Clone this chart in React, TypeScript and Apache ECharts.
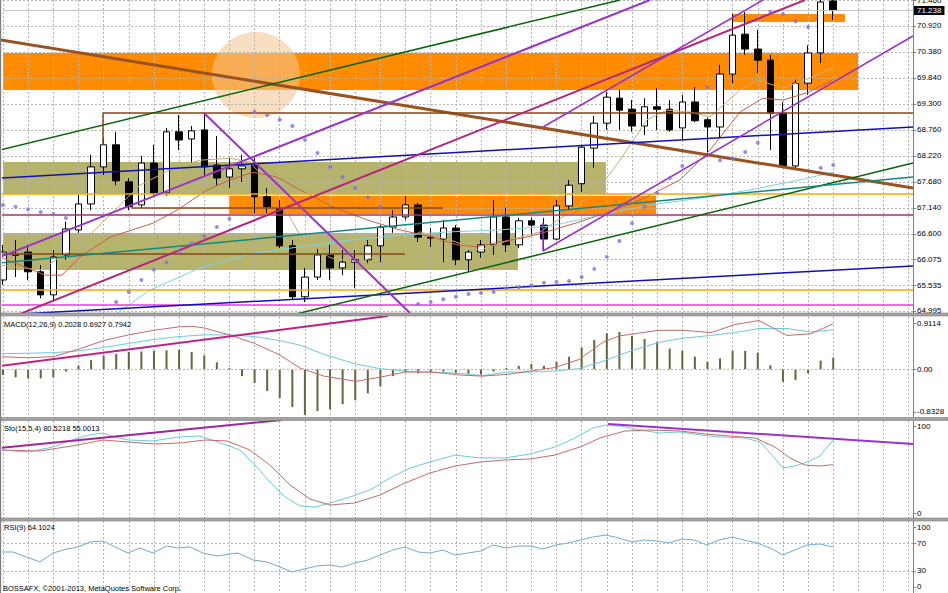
import { useEffect, useRef } from 'react';
import * as echarts from 'echarts';

// ---------- price data (candle index, OHLC) ----------
const opens = [65.64, 66.15, 66.22, 65.81, 65.33, 66.16, 66.68, 67.22, 67.99, 68.45, 67.68, 67.2, 68.07, 67.45, 68.72, 68.57, 68.76, 68.03, 67.78, 67.95, 68.03, 67.37, 67.12, 66.35, 65.29, 65.7, 66.16, 65.89, 66.01, 66.06, 66.35, 66.74, 66.95, 67.2, 66.53, 66.49, 66.72, 66.06, 66.22, 66.37, 66.95, 66.37, 66.87, 66.78, 66.49, 67.18, 67.64, 68.38, 68.9, 69.42, 69.19, 68.84, 69.24, 69.19, 68.8, 69.34, 68.97, 68.82, 69.92, 70.75, 70.44, 70.21, 69.11, 68.01, 69.73, 70.36, 71.44];
const closes = [66.22, 66.18, 65.81, 65.33, 66.12, 66.7, 67.22, 67.99, 68.45, 67.7, 67.16, 68.07, 67.45, 68.72, 68.55, 68.74, 67.99, 67.76, 67.95, 68.01, 67.37, 67.16, 66.35, 65.29, 65.7, 66.16, 65.89, 66.01, 66.06, 66.35, 66.74, 66.95, 67.2, 66.53, 66.51, 66.72, 66.06, 66.22, 66.37, 66.95, 66.37, 66.87, 66.78, 66.49, 67.18, 67.61, 68.4, 68.9, 69.44, 69.17, 68.84, 69.24, 69.19, 68.76, 69.34, 68.95, 68.82, 69.92, 70.73, 70.44, 70.21, 69.11, 68.01, 69.73, 70.36, 71.42, 71.24];
const lows = [65.54, 65.7, 65.64, 65.26, 65.22, 66.06, 66.62, 67.09, 67.82, 67.61, 67.09, 67.14, 67.39, 67.39, 68.34, 68.07, 67.82, 67.61, 67.55, 67.68, 67.03, 67.03, 66.3, 65.22, 65.18, 65.64, 65.64, 65.74, 65.47, 65.99, 66.01, 66.62, 66.89, 66.43, 66.33, 66.01, 65.95, 65.81, 66.1, 66.16, 66.22, 66.3, 66.57, 66.26, 66.47, 67.09, 67.47, 67.97, 68.76, 68.76, 68.72, 68.65, 68.76, 68.72, 68.55, 68.92, 68.23, 68.61, 69.73, 70.32, 69.94, 68.34, 68.01, 67.97, 69.49, 70.15, 71.04];
const highs = [66.37, 66.47, 66.37, 65.95, 66.26, 66.85, 67.41, 68.24, 68.59, 68.72, 67.76, 68.22, 68.45, 68.8, 69.07, 68.84, 69.11, 68.63, 68.18, 68.24, 68.18, 67.55, 67.3, 66.47, 65.89, 66.3, 66.37, 66.26, 66.26, 66.47, 66.78, 67.09, 67.39, 67.24, 66.72, 66.89, 66.78, 66.26, 66.47, 67.3, 67.14, 66.93, 66.93, 66.93, 67.3, 67.72, 68.45, 69.05, 69.55, 69.59, 69.38, 69.42, 69.63, 69.38, 69.49, 69.65, 69.01, 70.11, 71.17, 71.21, 70.84, 70.32, 69.34, 69.8, 70.52, 71.55, 71.55];

// moving averages [candle index, price]
const maFast = [[-0.24, 65.95], [2.94, 65.85], [6.12, 66.37], [8.51, 66.99], [10.89, 67.61], [13.28, 67.93], [15.66, 68.13], [18.04, 68.17], [19.63, 68.09], [21.62, 67.51], [23.61, 66.57], [26.0, 66.1], [28.38, 66.01], [30.76, 66.26], [33.15, 66.64], [35.53, 66.47], [37.92, 66.26], [40.3, 66.47], [42.69, 66.64], [45.07, 67.05], [47.46, 67.57], [49.05, 68.13], [51.19, 68.97], [52.78, 69.17], [54.61, 69.13], [56.2, 69.03], [58.59, 69.59], [59.94, 69.8], [62.0, 69.63], [64.15, 69.84], [65.98, 70.05]];
const maMid = [[-0.24, 66.12], [3.34, 65.74], [4.69, 65.74], [6.12, 66.12], [8.51, 66.53], [11.92, 66.82], [13.83, 67.09], [16.22, 67.51], [18.04, 67.72], [19.87, 67.88], [21.78, 67.78], [23.61, 67.51], [26.23, 67.16], [28.93, 66.89], [31.56, 66.68], [34.18, 66.53], [36.09, 66.37], [37.68, 66.33], [39.51, 66.43], [41.65, 66.53], [43.72, 66.68], [45.87, 66.85], [47.46, 66.99], [50.64, 67.3], [53.82, 67.72], [56.2, 68.34], [58.59, 69.13], [60.41, 69.42], [62.0, 69.38], [63.91, 69.53], [65.98, 69.8]];
const maSlow = [[9.06, 64.95], [11.69, 65.43], [15.66, 65.89], [19.63, 66.18], [23.61, 66.33], [27.58, 66.47], [31.56, 66.57], [35.53, 66.64], [39.51, 66.68], [43.48, 66.76], [47.46, 66.99], [51.43, 67.2], [55.41, 67.34], [59.38, 67.51], [63.35, 67.72], [65.98, 67.88]];

// parabolic SAR per candle
const sar = [67.2, 67.16, 67.11, 67.05, 67.01, 66.93, null, null, null, 65.18, 65.39, 65.64, 65.85, 66.01, 66.22, 66.41, 66.55, 66.74, 66.91, null, 69.13, 69.07, 68.97, 68.84, 68.55, 68.28, 67.99, 67.78, 67.55, 67.36, 67.16, null, null, 65.14, 65.18, 65.24, 65.29, 65.35, 65.37, 65.39, 65.47, 65.49, 65.53, 65.58, 65.6, 65.62, 65.7, 65.87, 66.12, 66.45, 66.82, 67.16, 67.45, 67.76, 68.01, null, 69.65, 68.13, 68.17, 68.3, 68.49, 71.21, 71.17, 71.02, 70.9, 67.97, 68.03];

// MACD
const macdHist = [-0.1, -0.14, -0.16, -0.16, -0.14, -0.04, 0.06, 0.16, 0.24, 0.27, 0.3, 0.31, 0.32, 0.33, 0.34, 0.3, 0.24, 0.12, 0.02, -0.12, -0.24, -0.38, -0.5, -0.66, -0.8, -0.73, -0.7, -0.61, -0.54, -0.42, -0.3, -0.12, -0.05, -0.07, -0.05, -0.04, -0.07, -0.08, -0.09, -0.04, 0.02, 0.06, 0.09, 0.06, 0.13, 0.22, 0.38, 0.51, 0.63, 0.65, 0.58, 0.53, 0.48, 0.36, 0.32, 0.22, 0.13, 0.19, 0.32, 0.32, 0.29, 0.07, -0.22, -0.19, -0.07, 0.15, 0.2];
const macdMain = [[-0.24, 0.22], [2, 0.2], [4, 0.22], [6, 0.35], [8, 0.5], [10, 0.6], [12, 0.68], [14, 0.74], [15, 0.75], [16, 0.72], [18, 0.6], [20, 0.45], [22, 0.25], [23.61, 0.02], [25.52, -0.12], [28.06, -0.21], [29.97, -0.14], [31.88, -0.05], [34.1, -0.05], [36.33, -0.1], [38.08, -0.12], [40.06, -0.09], [41.97, -0.03], [43.88, 0.03], [45.79, 0.17], [47.69, 0.47], [48.97, 0.58], [52.15, 0.68], [54.05, 0.68], [56.28, 0.64], [58.19, 0.78], [60.1, 0.85], [62.32, 0.59], [64.23, 0.62], [65.98, 0.79]];
const macdSignal = [[-0.24, 0.27], [2, 0.28], [4, 0.29], [6, 0.32], [8, 0.38], [10, 0.45], [12, 0.52], [14, 0.57], [16, 0.6], [18, 0.6], [20, 0.57], [22, 0.5], [23.61, 0.42], [25.52, 0.26], [28.06, 0.09], [29.97, 0.01], [31.88, -0.03], [34.1, -0.05], [36.33, -0.07], [38.08, -0.11], [40.06, -0.05], [41.97, -0.05], [43.88, -0.03], [45.79, 0.01], [47.69, 0.14], [49.92, 0.32], [52.15, 0.47], [54.05, 0.54], [56.28, 0.59], [58.19, 0.64], [60.1, 0.71], [62.32, 0.71], [64.23, 0.65], [65.98, 0.69]];

// Stochastic
const stoMain = [[-0.24, 70.1], [1.99, 68.0], [3.97, 73.2], [5.96, 82.5], [6.92, 85.6], [7.95, 87.6], [8.9, 83.5], [9.94, 80.4], [11.92, 79.4], [13.91, 83.5], [15.66, 84.5], [16.85, 79.4], [18.84, 70.1], [20.03, 54.6], [21.22, 37.1], [22.42, 21.6], [23.61, 12.4], [24.8, 11.3], [25.99, 15.5], [27.58, 21.6], [29.17, 28.9], [30.76, 41.2], [32.35, 51.5], [33.94, 57.7], [35.93, 64.9], [37.92, 61.9], [39.9, 61.9], [41.89, 66.0], [43.88, 73.2], [45.47, 82.5], [46.9, 92.8], [47.93, 95.9], [49.05, 94.8], [50.64, 90.7], [52.23, 87.6], [53.82, 88.7], [55.41, 85.6], [56.99, 83.5], [58.98, 82.5], [60.17, 78.4], [61.13, 64.9], [62.0, 51.5], [62.96, 53.6], [63.91, 57.7], [64.94, 63.9], [65.98, 80.5]];
const stoSignal = [[-0.24, 70.1], [2.94, 69.1], [5.96, 75.3], [7.95, 80.4], [9.86, 78.4], [12.08, 76.3], [14.07, 77.3], [16.06, 80.4], [17.81, 79.4], [19.63, 70.1], [21.22, 54.6], [22.81, 34.0], [24.4, 19.6], [25.99, 13.4], [27.98, 15.5], [29.97, 23.7], [31.96, 36.1], [33.94, 46.4], [35.93, 53.6], [37.92, 57.7], [39.9, 59.8], [41.89, 60.8], [43.88, 64.9], [45.87, 73.2], [47.46, 82.5], [49.44, 89.7], [51.43, 90.7], [53.82, 89.7], [55.8, 86.6], [57.79, 84.5], [59.78, 82.5], [61.37, 73.2], [62.56, 61.9], [63.75, 54.6], [64.94, 53.6], [65.98, 55.0]];

// RSI
const rsiLine = [[-0.24, 57.1], [0.79, 57.1], [2.94, 42.9], [3.97, 55.7], [5.09, 61.4], [5.96, 64.3], [6.92, 71.4], [7.95, 72.9], [8.9, 64.3], [9.94, 55.7], [10.89, 62.9], [11.92, 55.7], [13.04, 65.7], [13.91, 62.9], [14.86, 64.3], [15.9, 55.7], [17.01, 51.4], [18.04, 54.3], [18.68, 55.7], [19.87, 45.7], [20.99, 42.9], [22.02, 35.7], [22.97, 28.6], [23.61, 31.4], [24.96, 37.1], [25.99, 38.6], [26.95, 35.7], [27.98, 41.4], [29.01, 45.7], [29.97, 52.9], [31.0, 60.0], [31.96, 64.3], [32.99, 57.1], [33.94, 55.7], [34.98, 60.0], [35.93, 52.9], [36.96, 55.7], [38.0, 58.6], [38.95, 67.1], [39.98, 62.9], [40.94, 65.7], [41.97, 65.7], [42.93, 61.4], [43.96, 67.1], [44.91, 70.0], [45.95, 74.3], [46.9, 78.6], [47.93, 81.4], [48.97, 77.1], [50.0, 71.4], [50.95, 74.3], [51.99, 72.9], [52.94, 70.0], [53.97, 75.7], [54.93, 74.3], [55.96, 67.1], [56.92, 74.3], [57.95, 78.6], [58.9, 74.3], [59.94, 70.0], [60.97, 62.9], [62.0, 52.9], [62.96, 60.0], [63.91, 67.1], [64.94, 68.6], [65.98, 64.1]];

// axis ticks / labels
const priceTicks = [64.995, 65.535, 66.075, 66.6, 67.14, 67.68, 68.22, 68.76, 69.3, 69.84, 70.38, 70.92, 71.46];
const macdTicks = [0.9114, 0, -0.8328];
const macdTickLabels = ['0.9114', '0.00', '-0.8328'];
const stoTicks = [100, 0];
const stoTickLabels = ['100', '0'];
const rsiTicks = [100, 70, 30, 0];
const rsiTickLabels = ['100', '70', '30', '0'];
const lastPrice = 71.238;

// drawn objects (candle index, price)
const zoneOrangeWide = [-0.24, 70.358, 67.97, 69.589];
const zoneOrangeTop = [57.95, 71.169, 66.93, 71.003];
const zoneOrangeMid = [17.97, 67.385, 51.91, 67.011];
const zoneOliveHi = [-0.24, 68.092, 47.93, 67.427];
const zoneOliveLo = [-0.24, 66.616, 40.94, 65.847];
const circleCenter = [20.11, 69.9];

const lnBrownTrend = [[-0.24, 70.63], [72.34, 67.55]];
const lnBrownTop = [[7.95, 68.445], [7.95, 69.111], [72.34, 69.111]];
const lnBrownMid = [[10.25, 67.136], [34.98, 67.136]];
const lnBrownLow = [[-0.24, 66.179], [31.96, 66.179]];
const lnOrangeHi = [[-0.24, 67.427], [72.34, 67.427]];
const lnOrangeLo = [[-0.24, 65.431], [72.34, 65.431]];
const lnMaroon = [[-0.24, 66.99], [72.34, 66.99]];
const lnMagentaLow = [[-0.24, 65.119], [72.34, 65.119]];
const lnBlueHi = [[-0.24, 67.759], [72.34, 68.82]];
const lnBlueLo = [[-0.24, 64.911], [72.34, 65.93]];
const lnGreenHi = [[-0.24, 68.342], [49.05, 71.46]];
const lnGreenLo = [[22.97, 64.911], [72.34, 68.071]];
const lnTeal = [[-0.24, 65.992], [72.34, 67.78]];
const lnPurple1 = [[-0.24, 66.117], [51.43, 71.46]];
const lnMagenta2 = [[-0.24, 64.766], [63.75, 71.46]];
const lnPurpleX = [[15.98, 69.111], [32.35, 64.953]];
const lnChanLo = [[42.93, 66.824], [42.93, 66.242], [72.34, 70.712]];
const lnChanHi = [[42.93, 68.82], [60.41, 71.46]];
const lnMacdTrend = [[-0.24, 0.058], [30.6, 0.93]];
const lnStoLeft = [[-0.24, 72.2], [22.18, 101]];
const lnStoRight = [[48.09, 96.9], [72.34, 76.3]];

const FONT = 'Liberation Sans';
const X_MAX = 72.34;
const GRID_CLR = '#b4b4b4';

export default function App() {
  const ref = useRef<HTMLDivElement>(null);
  useEffect(() => {
    if (!ref.current) return;
    const chart = echarts.init(ref.current, null, { renderer: 'svg' });

    const grids = [
      { left: 3, right: 35, top: 0, height: 313 },
      { left: 3, right: 35, top: 317, height: 100 },
      { left: 3, right: 35, top: 421, height: 97 },
      { left: 3, right: 35, top: 521, height: 72 },
    ].map((g) => ({ ...g, outerBoundsMode: 'none', containLabel: false }));

    const xAxes = [0, 1, 2, 3].map((k) => ({
      gridIndex: k, type: 'value', min: 0, max: X_MAX, interval: 2,
      axisLine: { show: false }, axisTick: { show: false }, axisLabel: { show: false },
      splitLine: { show: true, lineStyle: { type: [2, 2], color: GRID_CLR, width: 1 } },
    }));

    const axisCommon = {
      type: 'value', position: 'right',
      axisLine: { show: true, onZero: false, lineStyle: { color: '#808080', width: 1 } },
    };
    const labelStyle = { fontSize: 8, fontFamily: FONT, color: '#000', margin: 4 };

    const panelAxis = (gridIndex: number, min: number, max: number, ticks: number[], labels: string[], shiftPx: number[], pxPerUnit: number) => {
      const pos = ticks.map((v, k) => v - shiftPx[k] / pxPerUnit);
      return {
        ...axisCommon, gridIndex, min, max,
        axisTick: { show: true, length: 3, customValues: pos, lineStyle: { color: '#808080' } },
        axisLabel: {
          ...labelStyle, customValues: pos,
          formatter: (v: number) => {
            let best = 0;
            pos.forEach((p, k) => { if (Math.abs(p - v) < Math.abs(pos[best] - v)) best = k; });
            return labels[best];
          },
        },
        splitLine: { show: false },
      };
    };

    const yAxes = [
      {
        ...axisCommon, gridIndex: 0, min: 64.953, max: 71.46,
        axisTick: { show: true, length: 3, customValues: priceTicks, lineStyle: { color: '#808080' } },
        axisLabel: { ...labelStyle, customValues: priceTicks, formatter: (v: number) => v.toFixed(3) },
        splitLine: { show: true, lineStyle: { type: [2, 2], color: GRID_CLR, width: 1 } },
      },
      panelAxis(1, -0.8328, 0.9114, macdTicks, macdTickLabels, [6, 0, -5], 57.33),
      panelAxis(2, 0, 100, stoTicks, stoTickLabels, [5, -5], 0.97),
      panelAxis(3, -1.43, 101.43, rsiTicks, rsiTickLabels, [5, 0, 0, -5], 0.7),
    ];

    const zones = [zoneOrangeWide, zoneOrangeTop, zoneOrangeMid, zoneOliveHi, zoneOliveLo];
    const zoneFills = ['#ff8c00', '#ff8c00', '#ff8c00', '#b5b36c', '#b5b36c'];

    const line = (data: number[][], color: string, width: number, panel = 0, z = 4, extra: any = {}) => ({
      type: 'line', xAxisIndex: panel, yAxisIndex: panel, data, showSymbol: false, symbol: 'none',
      lineStyle: { color, width }, z, silent: true, clip: true, animation: false, ...extra,
    });

    const dashedMark = (values: number[]) => ({
      silent: true, symbol: ['none', 'none'], label: { show: false },
      lineStyle: { type: [2, 2], color: GRID_CLR, width: 1 },
      data: values.map((v) => ({ yAxis: v })),
    });

    const series: any[] = [
      {
        type: 'custom', xAxisIndex: 0, yAxisIndex: 0, z: -2, silent: true,
        data: zones.map((zn, k) => [...zn, k]),
        encode: { x: [0, 2], y: [1, 3] },
        renderItem: (params: any, api: any) => {
          const a = api.coord([api.value(0), api.value(1)]);
          const b = api.coord([api.value(2), api.value(3)]);
          const cs = params.coordSys;
          const shape = echarts.graphic.clipRectByRect(
            { x: Math.min(a[0], b[0]), y: Math.min(a[1], b[1]), width: Math.abs(b[0] - a[0]), height: Math.abs(b[1] - a[1]) },
            { x: cs.x, y: cs.y, width: cs.width, height: cs.height },
          );
          if (!shape) return null;
          return { type: 'rect', shape, style: { fill: zoneFills[api.value(4)] } };
        },
      },
      {
        type: 'scatter', xAxisIndex: 0, yAxisIndex: 0, z: -1, silent: true,
        data: [circleCenter], symbolSize: [88, 86],
        itemStyle: { color: 'rgba(242,198,146,0.72)' },
      },
      {
        type: 'candlestick', xAxisIndex: 0, yAxisIndex: 0, z: 3, silent: true,
        data: opens.map((o, i) => [i, o, closes[i], lows[i], highs[i]]),
        encode: { x: 0, y: [1, 2, 3, 4] },
        barWidth: 7,
        itemStyle: { color: '#ffffff', color0: '#000000', borderColor: '#000000', borderColor0: '#000000', borderWidth: 1 },
        markLine: {
          silent: true, symbol: ['none', 'none'],
          lineStyle: { type: 'solid', color: '#c4c4c4', width: 1 },
          label: {
            show: true, position: 'end', distance: 1, formatter: lastPrice.toFixed(3),
            color: '#fff', backgroundColor: '#000', padding: [1, 3, 0, 3], fontSize: 8, fontFamily: FONT,
          },
          data: [{ yAxis: lastPrice }],
        },
      },
      line(maFast, '#c2b07a', 1, 0, 4),
      line(maMid, '#c8604a', 1, 0, 4),
      line(maSlow, '#7fd3df', 1, 0, 4),
      line(lnBrownTrend, '#985320', 3, 0, 5),
      line(lnBrownTop, '#8b4513', 1.5, 0, 5),
      line(lnBrownMid, '#8b4513', 1.5, 0, 5),
      line(lnBrownLow, '#8b4513', 1.5, 0, 5),
      line(lnOrangeHi, '#ffa500', 1.5, 0, 5),
      line(lnOrangeLo, '#ffa500', 1.5, 0, 5),
      line(lnMaroon, '#a83068', 1.5, 0, 5),
      line(lnMagentaLow, '#e23de2', 1.5, 0, 5),
      line(lnBlueHi, '#1010b8', 1.5, 0, 5),
      line(lnBlueLo, '#1010b8', 1.5, 0, 5),
      line(lnGreenHi, '#0a640a', 1.5, 0, 5),
      line(lnGreenLo, '#0a640a', 1.5, 0, 5),
      line(lnTeal, '#108a80', 1.5, 0, 5),
      line(lnPurple1, '#9932cc', 2, 0, 5),
      line(lnMagenta2, '#b5267a', 2, 0, 5),
      line(lnPurpleX, '#9932cc', 2, 0, 5),
      line(lnChanLo, '#9932cc', 1.5, 0, 5),
      line(lnChanHi, '#9932cc', 1.5, 0, 5),
      {
        type: 'scatter', xAxisIndex: 0, yAxisIndex: 0, z: 6, silent: true,
        data: sar.map((v, i) => (v == null ? null : [i, v])).filter((d) => d != null),
        symbolSize: 4, itemStyle: { color: '#7f6fe8' },
      },
      // MACD
      {
        type: 'bar', xAxisIndex: 1, yAxisIndex: 1, z: 3, silent: true,
        data: macdHist.map((v, i) => [i, v]), barWidth: 2,
        itemStyle: { color: '#66663d' },
        markLine: dashedMark([0]),
      },
      line(macdSignal, '#6cc9d8', 1, 1, 4),
      line(macdMain, '#c46a6a', 1, 1, 4),
      line(lnMacdTrend, '#c0208a', 2, 1, 5),
      // Stochastic
      line(stoMain, '#6cc9d8', 1, 2, 4),
      line(stoSignal, '#c46a6a', 1, 2, 4),
      line(lnStoLeft, '#a3249a', 2, 2, 5),
      line(lnStoRight, '#9932cc', 2, 2, 5),
      // RSI
      line(rsiLine, '#72a6d2', 1, 3, 4, { markLine: dashedMark([70, 30]) }),
    ];

    const txt = (text: string, x: number, y: number) => ({
      type: 'text', x, y, silent: true, z: 100,
      style: { text, fill: '#000', font: `7.5px "${FONT}"`, verticalAlign: 'middle', align: 'left' },
    });
    const sep = (y: number) => ({
      type: 'rect', silent: true, z: 90, shape: { x: 0, y, width: 948, height: 3 },
      style: { fill: '#a3a3a3', stroke: '#7e7e7e', lineWidth: 0.6 },
    });

    chart.setOption({
      animation: false,
      backgroundColor: '#ffffff',
      grid: grids,
      xAxis: xAxes,
      yAxis: yAxes,
      series,
      graphic: [
        sep(313), sep(417.5), sep(518),
        { type: 'rect', silent: true, z: 90, shape: { x: 0, y: 0, width: 1.2, height: 593 }, style: { fill: '#808080' } },
        txt('MACD(12,26,9) 0.2028 0.6927 0.7942', 4, 324),
        txt('Sto(15,5,4) 80.5218 55.0013', 4, 428),
        txt('RSI(9) 64.1024', 4, 527),
        txt('BOSSAFX, \u00a92001-2013, MetaQuotes Software Corp.', 3, 588),
      ],
    });
    return () => chart.dispose();
  }, []);
  return <div ref={ref} style={{ position: 'fixed', left: 0, top: 0, width: 948, height: 593, background: '#fff' }} />;
}
